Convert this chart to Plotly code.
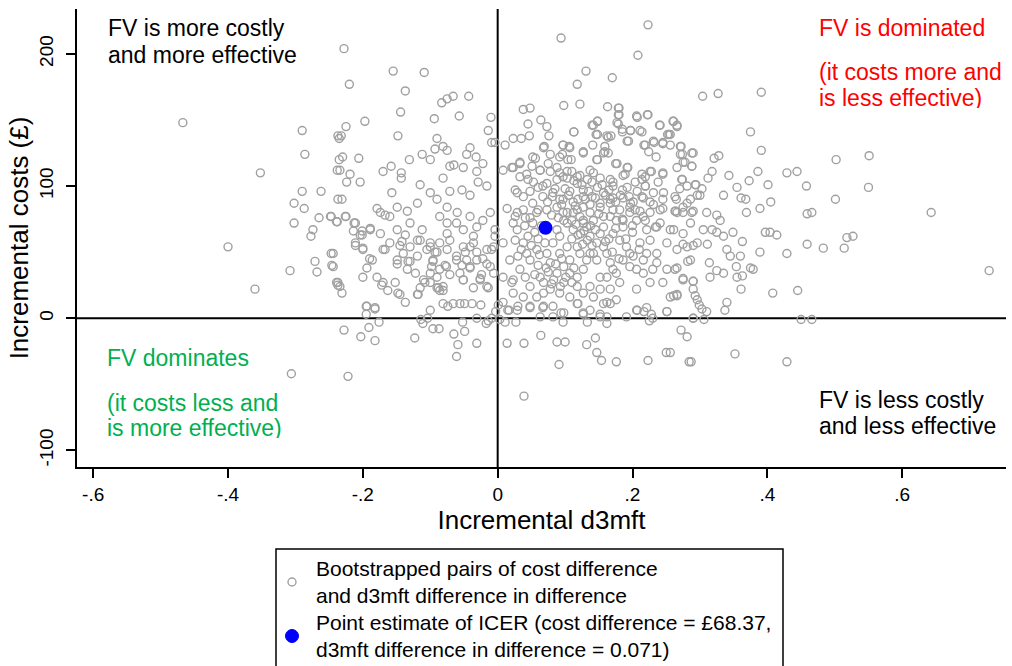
import plotly.graph_objects as go

# ---------------- data (incremental d3mft, incremental cost £) ----------------
boot_far_left = [
    (-0.467,148),(-0.352,110),(-0.400,54),(-0.290,142),(-0.286,124),(-0.290,96),(-0.262,96),
    (-0.302,87),(-0.287,83),(-0.265,76),(-0.247,77),(-0.302,72),(-0.274,67),(-0.360,22),
    (-0.308,36),(-0.271,43),(-0.268,35),(-0.247,49),(-0.246,40),(-0.306,-42),(-0.277,62),
    (-0.237,27),(-0.237,138),(-0.235,120),(-0.238,112),(-0.237,90),(-0.238,73),
]

boot_upper_left = [
    (-0.228,204),(-0.155,187),(-0.109,186),(-0.220,177),(-0.137,172),(-0.144,156),(-0.197,149),
    (-0.225,145),(-0.235,136),(-0.232,138),(-0.148,138),(-0.094,151),(-0.057,153),(-0.083,163),
    (-0.075,166),(-0.066,168),(-0.043,168),(-0.010,152),(-0.014,142),(-0.230,122),(-0.206,121),
    (-0.234,112),(-0.219,109),(-0.224,103),(-0.204,103),(-0.231,90),(-0.225,77),(-0.213,72),
    (-0.179,83),(-0.157,95),(-0.170,111),(-0.158,115),(-0.143,110),(-0.143,106),(-0.131,120),
    (-0.112,124),(-0.115,101),(-0.100,120),(-0.093,128),(-0.090,136),(-0.081,130),(-0.075,127),
    (-0.071,115),(-0.065,116),(-0.051,114),(-0.046,124),(-0.041,129),(-0.032,122),(-0.031,111),
    (-0.022,117),(-0.009,133),(-0.004,133),(-0.100,95),(-0.090,90),(-0.081,106),(-0.071,96),
    (-0.053,97),(-0.041,93),(-0.029,103),(-0.016,100),(-0.119,87),(-0.075,84),(-0.060,80),
    (-0.134,81),(-0.149,84),(-0.167,78),(-0.189,68),(-0.201,63),(-0.248,77),
]

boot_upper_right = [
    (0.094,212),(0.223,222),(0.208,199),(0.131,187),(0.118,177),(0.170,182),(0.098,161),
    (0.122,162),(0.163,160),(0.180,159),(0.180,154),(0.206,153),(0.223,154),(0.038,158),
    (0.048,159),(0.064,150),(0.045,147),(0.073,145),(0.076,138),(0.113,141),(0.140,146),
    (0.148,149),(0.146,139),(0.162,138),(0.179,147),(0.185,143),(0.197,142),(0.211,142),
    (0.240,146),(0.252,139),(0.023,136),(0.011,131),(0.035,136),(0.047,138),(0.069,130),
    (0.097,131),(0.106,130),(0.127,125),(0.141,131),(0.159,130),(0.168,138),(0.194,134),
    (0.217,131),(0.232,133),(0.245,132),(0.224,126),(0.235,122),(0.052,122),(0.075,117),
    (0.096,124),(0.109,120),(0.147,120),(0.157,125),(0.164,125),(0.175,117),(0.193,114),
    (0.214,109),(0.228,111),(0.245,109),(0.008,112),(0.021,114),(0.033,117),(0.043,109),
    (0.053,103),(0.063,112),(0.088,114),(0.097,107),(0.103,111),(0.118,107),(0.133,105),
    (0.142,110),(0.171,103),(0.186,108),(0.204,103),(0.219,100),(0.238,103),(0.246,95),
    (0.029,95),(0.048,96),(0.067,100),(0.081,92),(0.092,90),(0.107,96),(0.119,90),
    (0.127,84),(0.140,92),(0.152,87),(0.167,90),(0.182,93),(0.197,87),(0.214,92),
    (0.226,88),(0.241,82),(0.014,83),(0.029,80),(0.048,76),(0.060,82),(0.097,80),
    (0.110,74),(0.127,74),(0.137,80),(0.157,77),(0.171,82),(0.186,74),(0.204,82),
    (0.219,74),(0.234,69),
]

boot_upper_core = [
    (0.179,159),(0.179,154),(0.207,152),(0.222,154),(0.266,146),(0.260,149),(0.241,146),
    (0.254,139),(0.214,141),(0.197,142),(0.185,141),(0.177,148),(0.148,149),(0.142,146),
    (0.113,141),(0.148,139),(0.164,137),(0.192,134),(0.219,131),(0.231,134),(0.245,133),
    (0.256,131),(0.271,130),(0.288,125),(0.274,124),(0.275,118),(0.288,115),(0.266,114),
    (0.245,110),(0.226,111),(0.219,107),(0.214,105),(0.192,114),(0.189,109),(0.177,117),
    (0.159,126),(0.148,120),(0.137,112),(0.127,126),(0.107,129),(0.097,131),(0.092,122),
    (0.104,120),(0.078,124),(0.068,129),(0.056,121),(0.033,118),(0.023,114),(0.051,115),
    (0.063,112),(0.078,111),(0.092,110),(0.110,111),(0.122,108),(0.140,103),(0.152,106),
    (0.167,105),(0.171,100),(0.192,99),(0.207,96),(0.219,100),(0.231,95),(0.245,90),
    (0.263,92),(0.274,105),(0.281,100),(0.293,101),(0.296,93),(0.286,90),(0.275,84),
    (0.288,80),(0.263,81),(0.245,83),(0.231,86),(0.216,91),(0.201,88),(0.186,91),
    (0.171,91),(0.157,95),(0.148,99),(0.127,97),(0.118,102),(0.103,106),(0.088,105),
    (0.073,102),(0.060,99),(0.045,105),(0.033,107),(0.026,97),(0.038,92),(0.052,87),
    (0.067,92),(0.082,95),(0.097,90),(0.112,88),(0.127,92),(0.137,86),(0.152,84),
    (0.167,87),(0.181,82),(0.196,84),(0.211,81),(0.226,80),(0.118,82),(0.103,80),
    (0.088,84),(0.073,82),(0.058,80),(0.038,82),
]

boot_right = [
    (0.304,168),(0.327,170),(0.391,171),(0.375,141),(0.391,127),(0.261,149),(0.266,145),
    (0.256,139),(0.272,130),(0.290,125),(0.271,124),(0.278,118),(0.288,115),(0.321,121),
    (0.328,123),(0.318,111),(0.312,106),(0.343,108),(0.373,104),(0.386,111),(0.401,101),
    (0.429,110),(0.444,111),(0.502,120),(0.551,123),(0.458,100),(0.550,99),(0.501,90),
    (0.643,80),(0.335,93),(0.355,99),(0.361,91),(0.368,90),(0.369,80),(0.389,83),
    (0.405,88),(0.459,79),(0.466,80),(0.273,105),(0.270,98),(0.294,101),(0.303,98),
    (0.265,90),(0.281,87),(0.300,93),(0.264,81),(0.290,81),(0.310,80),(0.325,78),
    (0.330,74),(0.305,67),(0.318,67),(0.349,65),(0.335,62),(0.397,65),(0.404,65),
    (0.414,63),(0.518,61),(0.527,62),(0.261,67),(0.325,65),(0.459,56),(0.483,53),
    (0.514,53),(0.729,36),(0.275,56),(0.290,55),(0.311,56),(0.340,52),(0.345,47),
    (0.360,47),(0.363,58),(0.389,50),(0.429,49),(0.282,43),(0.263,37),(0.314,42),
    (0.325,36),(0.335,34),(0.354,39),(0.355,31),(0.363,32),(0.375,38),(0.379,37),
    (0.275,29),(0.290,28),(0.315,31),(0.361,22),(0.408,19),(0.445,21),(0.261,17),
    (0.266,17),(0.293,17),(0.296,14),(0.299,10),(0.303,7),(0.310,5),(0.337,6),
    (0.340,12),(0.290,0),(0.306,-1),(0.450,-1),(0.466,-1),(0.272,-9),(0.281,-14),
    (0.256,-26),(0.284,-33),(0.287,-33),(0.352,-27),(0.429,-33),
]

boot_near_zero = [
    (-0.228,-9),(-0.203,-14),(-0.191,-7),(-0.182,-17),(-0.176,-3),(-0.195,3),(-0.195,9),
    (-0.182,7),(-0.123,-15),(-0.114,-1),(-0.111,-4),(-0.104,0),(-0.100,6),(-0.096,-8),
    (-0.087,-8),(-0.065,-12),(-0.059,-20),(-0.061,-29),(-0.052,-3),(-0.049,-10),(-0.031,0),
    (-0.031,-19),(-0.017,-4),(-0.014,-2),(-0.009,0),(-0.222,-44),(0.014,-19),(0.039,-19),
    (0.064,-13),(0.088,-18),(0.100,-18),(0.091,-35),(0.132,-20),(0.145,-15),(0.147,-26),
    (0.154,-32),(0.176,-33),(0.223,-32),(0.250,-26),(0.039,-59),(0.011,-3),(0.027,-3),
    (0.003,-1),(0.008,12),(0.017,6),(0.030,9),(0.048,8),(0.067,8),(0.082,1),(0.097,-3),
    (0.094,4),(0.119,11),(0.127,3),(0.133,-3),(0.152,3),(0.162,1),(0.162,-4),(0.157,11),
    (0.167,11),(0.207,6),(0.217,5),(0.228,3),(0.225,-2),(0.251,5),(-0.081,11),(-0.074,9),
    (-0.066,11),(-0.056,11),(-0.049,11),(-0.038,11),(-0.025,10),(-0.003,5),(0.001,10),
]

boot_mid_left = [
    (-0.122,34),(-0.133,43),(-0.137,12),(-0.118,18),(-0.145,18),(-0.170,27),(-0.163,21),
    (-0.200,31),(-0.237,25),(-0.231,19),(-0.211,55),(-0.200,52),(-0.190,45),(-0.194,38),
    (-0.201,66),(-0.170,52),(-0.160,57),(-0.145,55),(-0.130,43),(-0.110,29),(-0.100,34),
    (-0.096,43),(-0.090,50),(-0.086,57),(-0.076,39),(-0.088,23),(-0.081,21),(-0.071,33),
    (-0.061,44),(-0.051,29),(-0.041,39),(-0.036,23),(-0.026,30),(-0.022,45),(-0.014,23),
    (-0.009,52),(-0.006,34),(-0.004,62),(-0.119,59),(-0.100,54),(-0.075,64),(-0.051,54),
    (-0.036,57),(-0.149,41),(-0.214,66),(-0.244,49),(-0.244,39),(-0.239,27),(-0.234,24),
    (-0.226,77),(-0.239,73),(-0.211,72),(-0.204,63),(-0.211,57),(-0.200,53),(-0.189,67),
    (-0.174,64),(-0.167,52),(-0.186,44),(-0.172,25),(-0.148,19),(-0.119,18),(-0.115,23),
    (-0.108,27),(-0.194,9),(-0.182,8),(-0.149,67),(-0.142,58),(-0.137,63),(-0.130,72),
    (-0.119,47),(-0.115,59),(-0.112,67),(-0.105,52),(-0.100,57),(-0.096,44),(-0.090,31),
    (-0.086,21),(-0.078,40),(-0.075,52),(-0.071,59),(-0.061,47),(-0.056,34),(-0.051,29),
    (-0.046,44),(-0.041,54),(-0.036,62),(-0.031,44),(-0.026,29),(-0.016,24),(-0.011,39),
    (-0.006,54),(-0.004,67),(-0.086,77),(-0.075,72),(-0.061,72),(-0.051,67),(-0.041,77),
    (-0.031,69),(-0.022,74),(-0.011,80),(-0.160,77),(-0.174,80),(-0.048,50),(-0.031,50),
    (-0.016,52),(-0.016,41),(-0.024,33),(-0.041,38),(-0.053,40),(-0.093,50),(-0.098,39),
    (-0.086,37),(-0.100,27),(-0.090,23),(-0.081,24),(-0.149,44),(-0.140,49),(-0.130,54),
    (-0.134,37),(-0.152,27),(-0.179,31),(0.008,57),(0.018,44),(0.008,31),(0.021,27),
    (0.015,6),(0.023,72),
]

boot_lower_core = [
    (0.029,67),(0.038,57),(0.048,44),(0.033,37),(0.023,29),(0.048,24),(0.063,31),(0.073,49),
    (0.078,42),(0.082,57),(0.092,62),(0.103,72),(0.112,67),(0.122,77),(0.132,69),(0.142,74),
    (0.152,64),(0.118,54),(0.137,49),(0.147,44),(0.162,49),(0.171,37),(0.181,27),(0.152,31),
    (0.137,24),(0.118,24),(0.098,27),(0.078,22),(0.058,16),(0.082,9),(0.068,9),(0.048,9),
    (0.029,6),(0.118,11),(0.127,4),(0.152,1),(0.162,12),(0.176,14),(0.206,6),(0.221,8),
    (0.251,5),(0.191,1),(0.230,0),(0.290,0),(0.206,22),(0.226,27),(0.245,27),(0.256,16),
    (0.266,18),(0.186,44),(0.196,39),(0.206,37),(0.216,34),(0.230,37),(0.251,37),(0.266,38),
    (0.275,30),(0.290,28),(0.290,22),(0.191,54),(0.211,57),(0.221,49),(0.236,49),(0.226,59),
    (0.241,72),(0.256,67),(0.266,80),(0.281,54),(0.286,44),(0.296,57),(0.206,74),(0.186,69),
    (0.171,64),(0.167,77),(0.142,49),(0.157,54),(0.026,77),(0.041,76),(0.052,72),(0.026,59),
    (0.043,49),(0.030,47),(0.058,52),(0.060,40),(0.041,31),(0.068,27),(0.088,34),(0.098,39),
    (0.107,44),(0.107,34),(0.118,31),(0.127,37),(0.132,44),(0.122,49),(0.103,54),(0.092,49),
    (0.088,67),(0.098,74),(0.112,80),(0.127,72),(0.137,62),(0.147,57),(0.157,69),(0.176,74),
    (0.181,59),(0.167,42),(0.176,34),(0.162,31),(0.152,22),(0.167,22),(0.142,16),(0.127,19),
    (0.107,16),(0.092,19),(0.068,19),(0.038,16),(0.023,19),(0.137,6),(0.098,4),(0.063,1),
    (0.236,69),(0.236,42),(0.216,44),(0.201,47),(0.196,49),(0.251,57),(0.266,52),(0.275,64),
    (0.286,72),(0.275,80),(0.221,67),(0.216,77),(0.196,80),
]

boot_dense_core = [
    (0.123,64),(0.133,59),(0.128,66),(0.138,70),(0.145,67),(0.116,71),(0.110,60),(0.126,56),
    (0.140,55),(0.119,63),(0.075,35),(0.083,29),(0.093,24),(0.101,31),(0.110,27),(0.086,41),
    (0.095,45),(0.072,38),(0.080,26),(0.113,38),(0.074,88),(0.085,98),(0.095,86),(0.105,93),
    (0.115,85),(0.125,101),(0.135,96),(0.145,91),(0.155,101),(0.160,93),(0.080,78),(0.090,76),
    (0.100,98),(0.113,104),(0.130,90),(0.150,79),(0.165,97),(0.175,88),(0.185,97),(0.195,92),
    (0.060,60),(0.065,70),(0.055,65),(0.070,57),(0.050,55),(0.062,48),(0.045,62),(0.035,52),
    (0.040,70),(0.055,33),(0.160,58),(0.170,50),(0.180,45),(0.190,60),(0.200,65),(0.210,52),
    (0.175,68),(0.185,75),(0.200,70),(0.165,60),
]

icer_d3mft = [0.071]
icer_cost = [68.37]

boot_pairs = (boot_far_left + boot_upper_left + boot_upper_right + boot_upper_core +
              boot_right + boot_near_zero + boot_mid_left + boot_lower_core + boot_dense_core)
boot_d3mft = [p[0] for p in boot_pairs]
boot_cost = [p[1] for p in boot_pairs]

x_ticks = [-0.6, -0.4, -0.2, 0, 0.2, 0.4, 0.6]
x_ticktext = ["-.6", "-.4", "-.2", "0", ".2", ".4", ".6"]
y_ticks = [-100, 0, 100, 200]
y_ticktext = ["-100", "0", "100", "200"]

legend_labels = [
    "Bootstrapped pairs of cost difference<br>and d3mft difference in difference",
    "Point estimate of ICER (cost difference = £68.37,<br>d3mft difference in difference = 0.071)",
]

# ---------------- figure ----------------
FONT = "Liberation Sans, Arial, sans-serif"
W, H = 1012, 666
L, R, T, B = 77, 6, 9, 199
pw, ph = W - L - R, H - T - B
GRAY, BLUE = "#a0a0a0", "#0000ff"

def px(xp):
    return (xp - L) / pw

def py(yp):
    return (H - B - yp) / ph

fig = go.Figure()
fig.add_trace(go.Scatter(
    x=boot_d3mft, y=boot_cost, mode="markers", showlegend=False,
    marker=dict(symbol="circle-open", size=8, color=GRAY, line=dict(width=1.4)),
))
fig.add_trace(go.Scatter(
    x=icer_d3mft, y=icer_cost, mode="markers", showlegend=False,
    marker=dict(symbol="circle", size=14, color=BLUE),
))

fig.add_hline(y=0, line=dict(color="black", width=2), layer="below")
fig.add_vline(x=0, line=dict(color="black", width=2), layer="below")

# quadrant labels: (text, left px, cap-centre px, colour, clip-bottom px or None)
quad_lines = [
    ("FV is more costly", 107, 28, "black", None),
    ("and more effective", 107, 55, "black", None),
    ("FV is dominated", 818, 28, "#ff0000", None),
    ("(it costs more and", 818, 72, "#ff0000", None),
    ("is less effective)", 818, 99, "#ff0000", 107),
    ("FV dominates", 106, 358, "#00b050", None),
    ("(it costs less and", 106, 403, "#00b050", None),
    ("is more effective)", 106, 429, "#00b050", 437),
    ("FV is less costly", 818, 400, "black", None),
    ("and less effective", 818, 426, "black", None),
]
QS = 23
for text, lx, cy, col, clip in quad_lines:
    kw = dict(text=text, x=px(lx), xref="paper", yref="paper", xanchor="left",
              align="left", showarrow=False, borderpad=0,
              font=dict(family=FONT, size=QS, color=col))
    if clip is None:
        kw.update(y=py(cy), yanchor="middle")
    else:
        top = cy - 15
        kw.update(y=py(top), yanchor="top", height=clip - top, valign="top")
    fig.add_annotation(**kw)

# legend box (drawn by hand so its position matches)
fig.add_shape(type="rect", xref="paper", yref="paper",
              x0=px(276), x1=px(783), y0=py(549), y1=py(720),
              line=dict(color="black", width=1.5), fillcolor="white", layer="above")
fig.add_shape(type="circle", xref="paper", yref="paper",
              x0=px(288), x1=px(296), y0=py(578), y1=py(586),
              line=dict(color=GRAY, width=1.4), layer="above")
fig.add_shape(type="circle", xref="paper", yref="paper",
              x0=px(285.5), x1=px(298.5), y0=py(629.5), y1=py(642.5),
              line=dict(color=BLUE, width=1), fillcolor=BLUE, layer="above")
for t, yy in zip(legend_labels, [582, 636]):
    fig.add_annotation(text=t, x=px(315), y=py(yy), xref="paper", yref="paper",
                       xanchor="left", yanchor="middle", align="left",
                       showarrow=False, borderpad=0,
                       font=dict(family=FONT, size=21, color="black"))

fig.update_layout(
    width=W, height=H,
    margin=dict(l=L, r=R, t=T, b=B, pad=0),
    plot_bgcolor="white", paper_bgcolor="white",
    font=dict(family=FONT, size=19, color="black"),
    showlegend=False,
    xaxis=dict(range=[-0.624, 0.754], showgrid=False, zeroline=False,
               showline=True, linecolor="black", linewidth=1.5,
               ticks="outside", ticklen=9, tickwidth=1.5, tickcolor="black",
               tickvals=x_ticks, ticktext=x_ticktext, tickfont=dict(size=19),
               title=dict(text="Incremental d3mft", font=dict(size=26), standoff=0)),
    yaxis=dict(range=[-112.6, 234], showgrid=False, zeroline=False,
               showline=True, linecolor="black", linewidth=1.5,
               ticks="outside", ticklen=9, tickwidth=1.5, tickcolor="black",
               tickvals=y_ticks, ticktext=y_ticktext, tickangle=-90, tickfont=dict(size=19),
               ticklabelstandoff=6,
               title=dict(text="Incremental costs (£)", font=dict(size=26), standoff=0)),
)

fig.write_html("out.html")
